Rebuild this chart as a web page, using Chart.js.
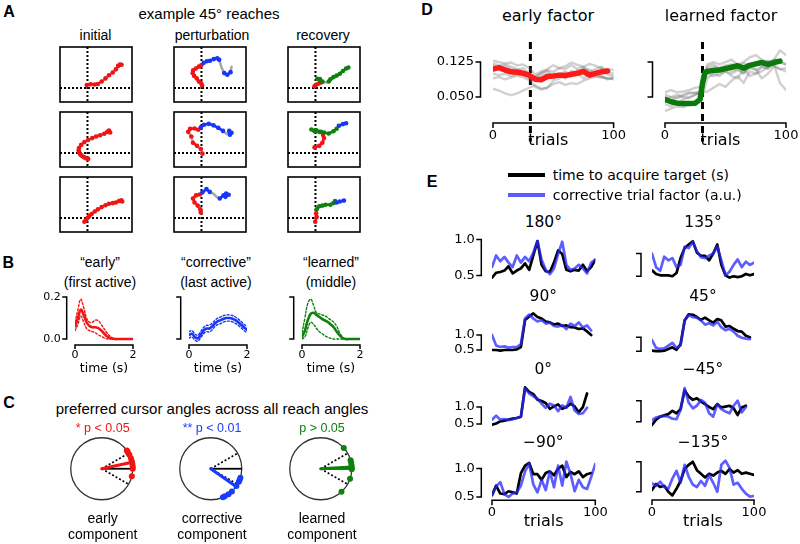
<!DOCTYPE html>
<html>
<head>
<meta charset="utf-8">
<script src="https://cdn.jsdelivr.net/npm/chart.js@4/dist/chart.umd.min.js"></script>
<style>
  body { margin: 0; width: 800px; height: 544px; overflow: hidden; background: #fff; position: relative;
         font-family: "Liberation Sans", Arial, sans-serif; }
  canvas { position: absolute; }
  .t { position: absolute; transform: translate(-50%, -50%); white-space: nowrap; line-height: 1; color: #000; }
</style>
</head>
<body>
<script>
// ------------------------------------
// DATA — panel A: cursor positions, [x, y, component]
// E = early, C = corrective, L = learned (lower case: dot only), - = none
// ------------------------------------
const initReach1 = [[-0.7,3.3,'E'],[3.3,4,'E'],[7.7,3.7,'E'],[11,4.3,'E'],[15,7,'e'],[19,10.3,'e'],[22.7,13.7,'e'],[26.7,16.7,'e'],[30,20,'e'],[32.3,23.7,'E'],[34.3,25.3,'E'],[36,25,'E']];
const initReach2 = [[0.7,-6.3,'E'],[-1.3,-5.7,'E'],[-3.3,-4.7,'E'],[-5.3,-3.5,'E'],[-6.7,-2.3,'E'],[-8,-0.7,'E'],[-9,1,'E'],[-9.3,3,'E'],[-9,5.3,'e'],[-6.7,8.7,'e'],[-3.3,11.7,'e'],[0.7,14,'e'],[5,16,'e'],[9,17.7,'e'],[13.3,19,'e'],[17.7,20.7,'e'],[21,22.7,'E'],[22.7,24,'E'],[24,22,'E']];
const initReach3 = [[-3.3,-4,'E'],[-1.7,-2.3,'E'],[0,0,'E'],[1.7,2,'E'],[4.3,4.3,'e'],[7.7,7,'e'],[11,9.3,'e'],[15,11.7,'e'],[19,13.7,'e'],[22.7,15.3,'e'],[26.7,16,'e'],[30,16.7,'E'],[33.3,18.3,'E'],[35.7,19,'E'],[36.7,17.7,'E']];

const pertReach1 = [[0.7,2.7,'E'],[-0.3,5,'E'],[-2.7,7,'E'],[-5,10.3,'E'],[-7.7,13,'E'],[-9.3,16,'E'],[-8.7,19,'E'],[-6,21,'E'],[-2.7,23,'E'],[-0.3,24.3,'E'],[2.3,27,'C'],[5.7,28.7,'C'],[9,29.3,'C'],[13,31,'C'],[16.7,32,'C'],[18.7,30.3,'C'],[19.7,27,'-'],[21.3,21.7,'-'],[24,16,'C'],[27.3,14.3,'C'],[30.7,17,'C'],[31.7,22.7,'-']];
const pertReach2 = [[1,-0.7,'E'],[-0.7,4.3,'e'],[-4.7,7.7,'E'],[-9,11,'E'],[-10.7,17.7,'e'],[-14,22.7,'E'],[-12,26,'E'],[-7.3,26.3,'E'],[-3.3,25,'E'],[-0.7,27.7,'C'],[2.7,30.3,'C'],[7.7,31.3,'C'],[12.7,29.7,'C'],[17.7,27,'C'],[22.7,23.7,'C'],[26.7,20.3,'-'],[29.3,23.7,'C'],[31.7,21.7,'C'],[30,19.7,'C']];
const pertReach3 = [[-0.7,6,'E'],[-1.3,9.3,'E'],[-4,13.3,'e'],[-7.3,16.7,'E'],[-9,21,'E'],[-5.7,24.3,'E'],[-1.7,25.3,'E'],[1,27.7,'C'],[5.3,31,'C'],[8.7,28,'C'],[12.7,26,'-'],[16,22.7,'-'],[19.3,21,'C'],[23.3,24.3,'C'],[26,26.3,'C'],[28.7,25,'C'],[25.3,22.7,'C']];

const recReach1 = [[-1,2,'E'],[1.3,3.7,'E'],[4,5,'E'],[6.7,6.3,'E'],[4.7,8.3,'L'],[2,10,'L'],[4.7,9.7,'L'],[7.3,7,'L'],[10.7,6,'-'],[14,7,'l'],[15.7,9.3,'L'],[19,11.7,'L'],[22.3,13.3,'L'],[25.7,15.3,'L'],[29,18.3,'L'],[32.3,21,'L'],[34.7,22,'L']];
const recReach2 = [[-1,6,'E'],[4,7.7,'E'],[7.3,11,'E'],[9,16,'E'],[8,19.3,'E'],[5.7,22.7,'L'],[0.7,24.3,'L'],[-4.3,25.3,'L'],[-1,23.3,'L'],[4,22.7,'L'],[9,22,'L'],[14,21,'L'],[19,23.3,'L'],[22.3,26,'L'],[24.7,29.3,'C'],[29,31,'C'],[32.3,32,'C']];
const recReach3 = [[-0.3,-4,'E'],[1.3,1,'E'],[0.7,5,'E'],[1.3,9.3,'L'],[4,12.7,'L'],[7.3,13.3,'L'],[10.7,14.3,'L'],[15.7,14.3,'L'],[19,16,'L'],[20.7,18.3,'L'],[22.3,16.7,'C'],[25.7,17.7,'C'],[30,18.7,'C']];

// ------------------------------------
// DATA — panel B: component time courses (mean and bounds)
// ------------------------------------
const bTimes = [0,0.1,0.2,0.3,0.4,0.5,0.6,0.7,0.8,0.9,1.0,1.1,1.2,1.3,1.4,1.5,1.6,1.7,1.8,1.9,2.0];
const bTimeTicks = [0, 2];
const bValueTicks = [0, 0.2];
const earlyMean = [0.06,0.10,0.14,0.115,0.08,0.062,0.056,0.056,0.052,0.042,0.027,0.013,0.005,0.002,0,0,0,0,0,0,0];
const earlyHi   = [0.08,0.14,0.19,0.15,0.10,0.08,0.08,0.09,0.088,0.07,0.05,0.03,0.015,0.005,0.001,0,0,0,0,0,0];
const earlyLo   = [0.04,0.07,0.11,0.08,0.05,0.04,0.035,0.03,0.02,0.014,0.006,0.001,0,0,0,0,0,0,0,0,0];
const corrMean  = [0.02,0.025,0.01,0.003,0.02,0.04,0.05,0.05,0.06,0.075,0.085,0.09,0.097,0.1,0.1,0.097,0.09,0.08,0.068,0.055,0.045];
const corrHi    = [0.035,0.04,0.025,0.018,0.035,0.055,0.065,0.066,0.076,0.09,0.1,0.106,0.112,0.115,0.115,0.112,0.105,0.095,0.083,0.07,0.06];
const corrLo    = [0.005,0.01,-0.004,-0.01,0.005,0.025,0.035,0.034,0.044,0.06,0.07,0.074,0.082,0.085,0.085,0.082,0.075,0.065,0.053,0.04,0.03];
const learnMean = [0.01,0.04,0.09,0.12,0.125,0.115,0.105,0.095,0.088,0.08,0.068,0.055,0.035,0.018,0.005,0,0,0,0,0,0];
const learnHi   = [0.03,0.1,0.17,0.19,0.16,0.125,0.12,0.115,0.11,0.1,0.09,0.08,0.06,0.03,0.01,0,0,0,0,0,0];
const learnLo   = [0,0.01,0.05,0.08,0.07,0.05,0.035,0.025,0.015,0.008,0.003,0,0,0,0,0,0,0,0,0,0];

// ------------------------------------
// DATA — panel C: preferred angles (degrees)
// ------------------------------------
const cRefAngles = [0];
const cBoundAngles = [30, -30];
const earlyAngles = [36,33,27,20,14,9,4,0,-14];
const corrAngles = [-17,-21,-25,-34,-47,-55,-63,-67];
const learnAngles = [42,16,11,6,2,-1,-19,-48];
const earlyMeanAngle = 12;
const corrMeanAngle = -35;
const learnMeanAngle = 3;

// ------------------------------------
// DATA — panel D: trial factors
// ------------------------------------
const dTrials = [0,5,10,15,20,25,30,35,40,45,50,55,60,65,70,75,80,85,90,95];
const dGrayTrials = [0,5,10,15,20,25,30,35,40,45,50,55,60,65,70,75,80,85,90,95,100];
const dSwitchTrial = 31;
const dTrialTicks = [0, 100];
const dValueTicks = [0.050, 0.125];
const earlyFactor = [0.110,0.113,0.108,0.104,0.103,0.101,0.097,0.088,0.087,0.094,0.095,0.097,0.096,0.099,0.101,0.105,0.097,0.101,0.104,0.106];
const earlyGray = [
  [0.128,0.125,0.122,0.124,0.118,0.12,0.112,0.098,0.105,0.11,0.118,0.112,0.116,0.124,0.119,0.115,0.121,0.117,0.112,0.11,0.108],
  [0.068,0.064,0.058,0.054,0.058,0.064,0.07,0.075,0.068,0.07,0.078,0.082,0.076,0.08,0.078,0.085,0.09,0.094,0.092,0.09,0.088],
  [0.1,0.097,0.1,0.095,0.1,0.098,0.09,0.072,0.066,0.07,0.085,0.09,0.1,0.095,0.108,0.104,0.1,0.095,0.093,0.09,0.092],
  [0.118,0.112,0.116,0.11,0.108,0.112,0.1,0.085,0.095,0.1,0.09,0.098,0.105,0.095,0.1,0.09,0.098,0.1,0.095,0.088,0.09],
  [0.09,0.093,0.088,0.092,0.096,0.092,0.086,0.094,0.102,0.106,0.095,0.1,0.09,0.106,0.1,0.112,0.108,0.1,0.11,0.104,0.1],
  [0.122,0.118,0.12,0.115,0.11,0.105,0.1,0.092,0.1,0.108,0.104,0.112,0.11,0.118,0.11,0.115,0.105,0.11,0.115,0.098,0.095]
];
const learnTrials = [0,5,10,15,20,25,29,31,33,35,40,45,50,55,60,65,70,75,80,85,90,95];
const learnFactor = [0.045,0.040,0.037,0.036,0.036,0.037,0.045,0.08,0.103,0.105,0.107,0.108,0.111,0.114,0.117,0.112,0.118,0.121,0.124,0.12,0.124,0.127];
const learnGray = [
  [0.06,0.065,0.06,0.062,0.065,0.07,0.072,0.12,0.125,0.12,0.125,0.13,0.12,0.125,0.135,0.14,0.13,0.125,0.13,0.125,0.12],
  [0.035,0.03,0.038,0.045,0.05,0.055,0.06,0.062,0.07,0.078,0.072,0.085,0.095,0.08,0.105,0.1,0.115,0.11,0.13,0.15,0.14],
  [0.045,0.05,0.055,0.05,0.048,0.055,0.06,0.115,0.12,0.11,0.115,0.105,0.11,0.1,0.115,0.11,0.09,0.1,0.115,0.11,0.105],
  [0.04,0.042,0.05,0.055,0.06,0.058,0.065,0.1,0.095,0.1,0.105,0.095,0.09,0.11,0.095,0.1,0.105,0.115,0.12,0.08,0.065],
  [0.055,0.05,0.048,0.052,0.058,0.06,0.055,0.11,0.115,0.112,0.118,0.12,0.115,0.122,0.118,0.12,0.125,0.128,0.122,0.125,0.12],
  [0.02,0.025,0.03,0.028,0.035,0.04,0.045,0.09,0.1,0.095,0.105,0.1,0.108,0.102,0.112,0.108,0.115,0.112,0.118,0.11,0.112]
];

// ------------------------------------
// DATA — panel E: time to target vs corrective factor
// ------------------------------------
const eTrials = [0,4,8,12,16,20,24,28,32,36,40,44,48,52,56,60,64,68,72,76,80,84,88,92,96,100];
const eValueTicks = [0.5, 1.0];
const time180 = [0.47,0.54,0.55,0.57,0.63,0.53,0.57,0.6,0.67,0.58,0.78,0.98,0.65,0.56,0.55,0.68,0.85,0.8,0.58,0.56,0.58,0.57,0.65,0.56,0.62,0.72];
const fac180  = [0.62,0.78,0.7,0.76,0.68,0.62,0.78,0.68,0.76,0.7,0.82,0.98,0.72,0.58,0.52,0.6,0.8,0.97,0.65,0.58,0.6,0.65,0.6,0.53,0.68,0.72];
const time135 = [0.63,0.55,0.52,0.52,0.52,0.5,0.57,0.9,1.12,1.2,1.27,1.02,0.95,0.95,0.85,1.0,1.2,0.75,0.52,0.47,0.5,0.48,0.5,0.55,0.52,0.55];
const fac135  = [1.0,0.7,0.62,0.93,0.85,0.9,0.7,0.75,1.15,1.12,1.26,1.05,0.92,0.9,0.95,1.0,1.15,0.85,0.52,0.6,0.75,0.87,0.7,0.82,0.75,0.8];
const time90  = [0.5,0.5,0.48,0.5,0.5,0.5,0.52,0.6,1.5,1.62,1.72,1.6,1.55,1.45,1.42,1.35,1.38,1.3,1.32,1.26,1.25,1.2,1.22,1.12,1.0];
const fac90   = [1.0,0.65,0.6,0.62,0.58,0.6,0.6,0.7,1.55,1.68,1.55,1.45,1.5,1.38,1.42,1.3,1.28,1.33,1.2,1.38,1.3,1.42,1.25,1.32,1.15];
const time45  = [0.52,0.5,0.5,0.52,0.58,0.64,0.55,0.75,1.6,1.82,1.8,1.72,1.62,1.7,1.6,1.52,1.65,1.6,1.38,1.4,1.3,1.22,1.2,1.05,1.0];
const fac45   = [0.9,0.62,0.58,0.6,0.7,0.8,0.62,0.7,1.6,1.78,1.72,1.7,1.6,1.45,1.5,1.42,1.55,1.35,1.25,1.3,1.2,1.05,0.98,0.95,0.93];
const time0   = [0.48,0.52,0.58,0.6,0.63,0.66,0.68,0.72,1.58,1.45,1.38,1.22,1.18,1.12,0.95,1.02,1.08,0.95,1.0,1.1,1.02,0.85,1.0,1.4];
const fac0    = [0.63,0.75,0.63,0.65,0.62,0.64,0.68,0.72,1.55,1.4,1.32,1.25,1.1,0.98,1.1,1.05,0.88,1.05,0.98,1.3,0.9,0.8,0.82,0.98];
const timeM45 = [0.42,0.55,0.62,0.65,0.68,0.76,0.7,0.8,1.25,1.1,1.02,1.06,0.98,0.92,0.85,0.8,0.92,0.84,0.86,0.88,0.82,0.66,0.84,0.88];
const facM45  = [0.54,0.6,0.62,0.64,0.62,0.57,0.56,0.78,1.3,0.95,0.82,0.88,1.02,0.95,0.7,0.62,0.92,0.8,0.74,0.7,0.88,1.0,0.72,0.85];
const timeM90 = [0.53,0.7,0.56,0.55,0.6,0.58,0.56,0.92,1.05,1.1,0.9,0.9,0.8,0.92,0.95,0.88,1.0,1.05,0.85,0.94,0.9,0.95,0.85,0.9,0.92];
const facM90  = [0.53,0.68,0.76,0.55,0.5,0.56,0.58,0.7,0.95,1.09,0.72,0.58,0.8,0.62,0.95,0.67,1.05,0.7,1.12,0.91,0.6,0.8,0.67,0.64,0.85,1.08];
const timeM135 = [0.53,0.63,0.58,0.6,0.5,0.44,0.55,0.68,0.88,0.95,1.0,0.86,0.8,0.74,0.8,0.77,0.82,0.85,0.8,0.88,0.82,0.86,0.8,0.82,0.8,0.78];
const facM135  = [0.64,0.6,0.67,0.58,0.55,0.72,0.85,0.65,0.95,0.75,0.62,0.58,0.68,0.6,0.78,0.65,0.5,0.95,1.02,0.9,0.62,0.65,0.55,0.47,0.42,0.43];

// ------------------------------------
// STYLE
// ------------------------------------
const COMP = { E: "#f01414", C: "#1836f5", L: "#0c820c" };
const GRAY = "#a8a8a8";
const DV = '"DejaVu Sans", sans-serif';

// ------------------------------------
// DECORATION PLUGIN (frames, cross lines, brackets, circles)
// ------------------------------------
const decoMap = new WeakMap();

const decoPlugin = {
    id: "deco",
    beforeDatasetsDraw(chart) {
        const d = decoMap.get(chart.canvas);
        if (!d) return;
        const { ctx, chartArea: a, scales: { x, y } } = chart;
        ctx.save();
        ctx.strokeStyle = "#000";
        if (d.cross) {
            ctx.lineWidth = 2;
            ctx.setLineDash([2, 2]);
            const px = x.getPixelForValue(0), py = y.getPixelForValue(0);
            ctx.beginPath();
            ctx.moveTo(px, a.top); ctx.lineTo(px, a.bottom);
            ctx.moveTo(a.left, py); ctx.lineTo(a.right, py);
            ctx.stroke();
        }
        if (d.vline !== undefined) {
            ctx.lineWidth = 3;
            ctx.setLineDash([7, 5]);
            const px = x.getPixelForValue(d.vline);
            ctx.beginPath(); ctx.moveTo(px, a.top); ctx.lineTo(px, a.bottom); ctx.stroke();
        }
        if (d.circle) {
            const cx = x.getPixelForValue(0), cy = y.getPixelForValue(0);
            const r = x.getPixelForValue(1) - cx;
            ctx.setLineDash([]);
            ctx.strokeStyle = "#333";
            ctx.lineWidth = 1.3;
            ctx.beginPath(); ctx.arc(cx, cy, r, 0, Math.PI * 2); ctx.stroke();
            ctx.strokeStyle = "#000";
            d.rays.forEach(ray => {
                const rad = ray.angle * Math.PI / 180;
                ctx.lineWidth = ray.dashed ? 1.6 : 1.8;
                ctx.setLineDash(ray.dashed ? [2, 2] : []);
                ctx.beginPath();
                ctx.moveTo(cx, cy);
                ctx.lineTo(x.getPixelForValue(Math.cos(rad)), y.getPixelForValue(Math.sin(rad)));
                ctx.stroke();
            });
        }
        ctx.restore();
    },
    afterDatasetsDraw(chart) {
        const d = decoMap.get(chart.canvas);
        if (!d) return;
        const { ctx, chartArea: a, scales: { x, y } } = chart;
        ctx.save();
        ctx.strokeStyle = "#000";
        ctx.fillStyle = "#000";
        ctx.setLineDash([]);
        if (d.box) {
            ctx.lineWidth = 1.6;
            ctx.strokeRect(a.left, a.top, a.width, a.height);
        }
        if (d.xb) {
            const b = d.xb;
            const py = b.y - d.oy;
            const x1 = x.getPixelForValue(b.ticks[0]), x2 = x.getPixelForValue(b.ticks[1]);
            ctx.lineWidth = 1.5;
            ctx.beginPath();
            ctx.moveTo(x1, py + b.tick); ctx.lineTo(x1, py); ctx.lineTo(x2, py); ctx.lineTo(x2, py + b.tick);
            ctx.stroke();
            ctx.font = b.font;
            ctx.textAlign = "center";
            ctx.textBaseline = "top";
            ctx.fillText(b.ticks[0].toFixed(b.digits), x1, py + b.tick + 1);
            ctx.fillText(b.ticks[1].toFixed(b.digits), x2, py + b.tick + 1);
            if (b.title) {
                ctx.font = b.titleFont;
                ctx.textBaseline = "middle";
                ctx.fillText(b.title, (x1 + x2) / 2 + (b.titleShift || 0), b.titleY - d.oy);
            }
        }
        if (d.yb) {
            const b = d.yb;
            const px = b.x - d.ox;
            const y1 = y.getPixelForValue(b.ticks[0]), y2 = y.getPixelForValue(b.ticks[1]);
            ctx.lineWidth = 1.5;
            ctx.beginPath();
            ctx.moveTo(px - b.tick, y1); ctx.lineTo(px, y1); ctx.lineTo(px, y2); ctx.lineTo(px - b.tick, y2);
            ctx.stroke();
            if (b.labels) {
                ctx.font = b.font;
                ctx.textAlign = "right";
                ctx.textBaseline = "middle";
                ctx.fillText(b.ticks[0].toFixed(b.digits), px - b.tick - 1.5, y1);
                ctx.fillText(b.ticks[1].toFixed(b.digits), px - b.tick - 1.5, y2);
            }
        }
        ctx.restore();
    }
};
Chart.register(decoPlugin);

// ------------------------------------
// HELPERS
// ------------------------------------
function makePlot(area, pad, xr, yr, datasets, deco) {
    const c = document.createElement("canvas");
    c.width = Math.round(area.w + pad[0] + pad[2]);
    c.height = Math.round(area.h + pad[1] + pad[3]);
    deco.ox = area.x - pad[0];
    deco.oy = area.y - pad[1];
    c.style.left = deco.ox + "px";
    c.style.top = deco.oy + "px";
    document.body.appendChild(c);
    decoMap.set(c, deco);
    // later entries are drawn on top
    datasets.forEach((ds, i) => { ds.order = datasets.length - i; });
    return new Chart(c, {
        type: "line",
        data: { datasets },
        options: {
            responsive: false,
            animation: false,
            events: [],
            layout: { padding: { left: pad[0], top: pad[1], right: c.width - pad[0] - area.w, bottom: c.height - pad[1] - area.h } },
            scales: {
                x: { type: "linear", min: xr[0], max: xr[1], display: false },
                y: { type: "linear", min: yr[0], max: yr[1], display: false }
            },
            plugins: { legend: { display: false }, tooltip: { enabled: false } }
        }
    });
}

function txt(s, x, y, size, o = {}) {
    const el = document.createElement("div");
    el.className = "t";
    el.textContent = s;
    el.style.left = x + "px";
    el.style.top = y + "px";
    el.style.fontSize = size + "px";
    if (o.dv) el.style.fontFamily = DV;
    if (o.bold) el.style.fontWeight = "bold";
    if (o.color) el.style.color = o.color;
    if (o.left) el.style.transform = "translate(0, -50%)";
    document.body.appendChild(el);
}

function series(xs, ys, color, width, extra = {}) {
    return Object.assign({
        data: ys.map((v, i) => ({ x: xs[i], y: v })),
        borderColor: color, borderWidth: width, pointRadius: 0,
        borderJoinStyle: "round", borderCapStyle: "round", tension: 0
    }, extra);
}

// area placed so that two reference values land on given pixel rows
function refArea(pHi, pLo, vHi, vLo, lo, hi) {
    const s = (pLo - pHi) / (vHi - vLo);
    return { y: pHi - (hi - vHi) * s, h: (hi - lo) * s };
}

// ------------------------------------
// PANEL A — example reaches
// ------------------------------------
function reachSet(pts) {
    const data = pts.map(p => ({ x: p[0], y: p[1], c: p[2] }));
    const solid = c => c !== "-" && c === c.toUpperCase();
    return {
        data,
        borderColor: GRAY, borderWidth: 2.6, tension: 0,
        borderJoinStyle: "round", borderCapStyle: "round",
        pointRadius: c => (c.raw && c.raw.c !== "-") ? 2.3 : 0,
        pointBackgroundColor: c => (c.raw && COMP[c.raw.c.toUpperCase()]) || GRAY,
        pointBorderWidth: 0,
        segment: {
            borderColor: s => {
                const a = data[s.p0DataIndex], b = data[s.p1DataIndex];
                return (a.c === b.c && solid(a.c)) ? COMP[a.c] : GRAY;
            }
        }
    };
}

const reachCols = [
    { left: 58, title: "initial", cx: 95.5, reaches: [initReach1, initReach2, initReach3] },
    { left: 172, title: "perturbation", cx: 212, reaches: [pertReach1, pertReach2, pertReach3] },
    { left: 286, title: "recovery", cx: 323, reaches: [recReach1, recReach2, recReach3] }
];
const reachRowTops = [45, 110, 175];

reachCols.forEach(col => {
    txt(col.title, col.cx, 34.5, 14);
    col.reaches.forEach((r, i) => {
        makePlot({ x: col.left, y: reachRowTops[i], w: 76, h: 59 }, [2, 2, 2, 2],
            [-29, 47], [-15, 44], [reachSet(r)], { box: true, cross: true });
    });
});
txt("A", 9, 12, 16, { bold: true });
txt("example 45° reaches", 209, 13, 15);

// ------------------------------------
// PANEL B — component time courses
// ------------------------------------
const bPlots = [
    { left: 75, color: COMP.E, mean: earlyMean, hi: earlyHi, lo: earlyLo, labels: true, t1: "\u201Cearly\u201D", t2: "(first active)", cx: 100 },
    { left: 189, color: COMP.C, mean: corrMean, hi: corrHi, lo: corrLo, labels: false, t1: "\u201Ccorrective\u201D", t2: "(last active)", cx: 216 },
    { left: 302, color: COMP.L, mean: learnMean, hi: learnHi, lo: learnLo, labels: false, t1: "\u201Clearned\u201D", t2: "(middle)", cx: 331 }
];
bPlots.forEach(p => {
    txt(p.t1, p.cx, 262, 14);
    txt(p.t2, p.cx, 281.5, 14);
    const ar = refArea(297, 339, 0.2, 0, -0.015, 0.205);
    makePlot({ x: p.left, y: ar.y, w: 58, h: ar.h }, [36, 4, 6, 40], [0, 2], [-0.015, 0.205], [
        series(bTimes, p.hi, p.color, 1.4, { borderDash: [2, 2], tension: 0.4 }),
        series(bTimes, p.lo, p.color, 1.4, { borderDash: [2, 2], tension: 0.4 }),
        series(bTimes, p.mean, p.color, 2.6, { tension: 0.4 })
    ], {
        xb: { ticks: bTimeTicks, digits: 0, y: 345, tick: 4, font: "11px " + DV, title: "time (s)", titleFont: "12.5px " + DV, titleY: 369 },
        yb: { ticks: bValueTicks, digits: 1, x: p.left - 8.3, tick: 4.5, labels: p.labels, font: "11px " + DV }
    });
});
txt("B", 8.3, 263, 16, { bold: true });

// ------------------------------------
// PANEL C — preferred cursor angles
// ------------------------------------
function polar(a, r = 1) {
    const rad = a * Math.PI / 180;
    return { x: r * Math.cos(rad), y: r * Math.sin(rad) };
}
const cPlots = [
    { cx: 101.7, color: COMP.E, angles: earlyAngles, mean: earlyMeanAngle, p: "* p < 0.05", name: "early" },
    { cx: 211, color: "#1a3cff", angles: corrAngles, mean: corrMeanAngle, p: "** p < 0.01", name: "corrective" },
    { cx: 321, color: "#0c820c", angles: learnAngles, mean: learnMeanAngle, p: "p > 0.05", name: "learned" }
];
const cRays = cRefAngles.map(a => ({ angle: a, dashed: false }))
    .concat(cBoundAngles.map(a => ({ angle: a, dashed: true })));
cPlots.forEach(p => {
    const r = 31, span = 1.25 * r;
    makePlot({ x: p.cx - span, y: 468.3 - span, w: 2 * span, h: 2 * span }, [6, 6, 6, 6],
        [-1.25, 1.25], [-1.25, 1.25], [
            { data: [polar(p.mean, 0), polar(p.mean)], borderColor: p.color, borderWidth: 3.2, pointRadius: 0, borderCapStyle: "round" },
            { data: p.angles.map(a => polar(a)), showLine: false, pointRadius: 3, pointBackgroundColor: p.color, pointBorderWidth: 0 }
        ], { circle: true, rays: cRays });
    txt(p.p, p.cx + 1, 428, 12.5, { color: p.color });
    txt(p.name, p.cx + 1, 517.7, 14);
    txt("component", p.cx + 1, 533.5, 14);
});
txt("C", 9, 402.5, 16, { bold: true });
txt("preferred cursor angles across all reach angles", 212, 408, 15);

// ------------------------------------
// PANEL D — trial factors
// ------------------------------------
const dArea = refArea(61.7, 96.7, 0.125, 0.050, -0.045, 0.168);
const dPlots = [
    { left: 492.7, w: 120.6, trials: dTrials, main: earlyFactor, gray: earlyGray, color: "#ff1a1a", labels: true, title: "early factor", tx: 548 },
    { left: 665, w: 121, trials: learnTrials, main: learnFactor, gray: learnGray, color: "#0a7a0a", labels: false, title: "learned factor", tx: 721 }
];
dPlots.forEach(p => {
    const sets = p.gray.map(g => series(dGrayTrials, g, "rgba(110,110,110,0.32)", 2.4));
    sets.push(series(p.trials, p.main, p.color, 5.5));
    makePlot({ x: p.left, y: dArea.y, w: p.w, h: dArea.h }, [66, 4, 22, 14], [0, 100], [-0.045, 0.168], sets, {
        vline: dSwitchTrial,
        xb: { ticks: dTrialTicks, digits: 0, y: 122.7, tick: 5, font: "13px " + DV, title: "trials", titleFont: "16px " + DV, titleY: 140, titleShift: -5 },
        yb: { ticks: dValueTicks, digits: 3, x: p.left - 12.5, tick: 5, labels: p.labels, font: "13px " + DV }
    });
    txt(p.title, p.tx, 15.5, 16, { dv: true });
});
txt("D", 427, 10, 16, { bold: true });

// ------------------------------------
// PANEL E — time to acquire target vs corrective factor
// ------------------------------------
const eCols = [{ left: 491.7, w: 103.3, yx: 481, tx: 543.3 }, { left: 652, w: 102, yx: 641, tx: 703 }];
const ePlots = [
    { title: "180°", time: time180, fac: fac180, col: 0, p1: 240, p05: 276, lo: 0.4, hi: 1.05, ty: 223.3 },
    { title: "135°", time: time135, fac: fac135, col: 1, p1: 253.3, p05: 276, lo: 0.4, hi: 1.32, ty: 223.3 },
    { title: "90°", time: time90, fac: fac90, col: 0, p1: 335, p05: 350, lo: 0.4, hi: 1.8, ty: 296.7 },
    { title: "45°", time: time45, fac: fac45, col: 1, p1: 336.7, p05: 350.7, lo: 0.4, hi: 1.9, ty: 296.7 },
    { title: "0°", time: time0, fac: fac0, col: 0, p1: 407.3, p05: 424.3, lo: 0.4, hi: 1.65, ty: 370 },
    { title: "\u221245°", time: timeM45, fac: facM45, col: 1, p1: 400.7, p05: 421.7, lo: 0.35, hi: 1.35, ty: 370 },
    { title: "\u221290°", time: timeM90, fac: facM90, col: 0, p1: 468.3, p05: 496.7, lo: 0.45, hi: 1.15, ty: 443.3, bottom: true },
    { title: "\u2212135°", time: timeM135, fac: facM135, col: 1, p1: 461.7, p05: 491.7, lo: 0.38, hi: 1.08, ty: 443.3, bottom: true }
];
ePlots.forEach(p => {
    const col = eCols[p.col];
    const ar = refArea(p.p1, p.p05, 1.0, 0.5, p.lo, p.hi);
    const deco = {
        yb: { ticks: eValueTicks, digits: 1, x: col.yx, tick: 5, labels: p.col === 0, font: "13px " + DV }
    };
    if (p.bottom) {
        deco.xb = { ticks: dTrialTicks, digits: 0, y: 500, tick: 5, font: "13px " + DV, title: "trials", titleFont: "16px " + DV, titleY: 522 };
    }
    makePlot({ x: col.left, y: ar.y, w: col.w, h: ar.h }, [44, 4, 24, 32], [0, 100], [p.lo, p.hi], [
        series(eTrials.slice(0, p.time.length), p.time, "#000", 2.7),
        series(eTrials.slice(0, p.fac.length), p.fac, "rgba(40,40,255,0.75)", 2.7)
    ], deco);
    txt(p.title, col.tx, p.ty, 15.5, { dv: true });
});

// legend
const legendLines = [
    { y: 175, color: "#000", label: "time to acquire target (s)" },
    { y: 195, color: "rgba(60,60,255,0.85)", label: "corrective trial factor (a.u.)" }
];
legendLines.forEach(l => {
    const bar = document.createElement("div");
    bar.style.cssText = `position:absolute;left:508px;top:${l.y - 1.7}px;width:37px;height:3.5px;background:${l.color};`;
    document.body.appendChild(bar);
    txt(l.label, 552.7, l.y, 14, { dv: true, left: true });
});
txt("E", 432, 182, 16, { bold: true });
</script>
</body>
</html>
